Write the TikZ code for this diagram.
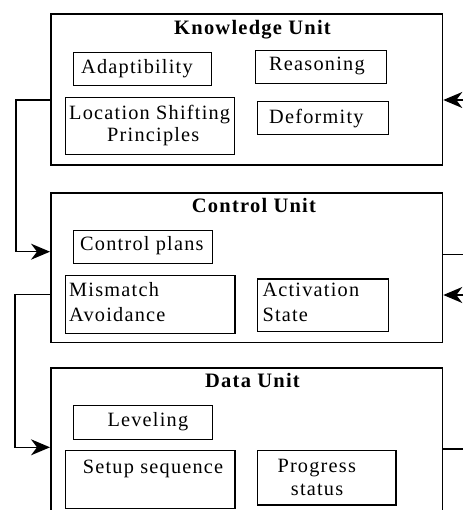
\documentclass[tikz,border=0pt]{standalone}
\usepackage{fontspec}
\setmainfont{Liberation Serif}[LetterSpace=6]
\usetikzlibrary{arrows.meta}
\tikzset{
  unit/.style={draw, line width=1.6pt, rectangle, anchor=north west, inner sep=0pt},
  ibox/.style={draw, line width=1.2pt, rectangle, anchor=north west, inner sep=0pt},
  txt/.style={anchor=base west, inner sep=0pt, font=\fontsize{20.3}{22}\selectfont},
  ttl/.style={anchor=base west, inner sep=0pt, font=\fontsize{20.5}{22}\selectfont\bfseries},
  conn/.style={line width=1.3pt},
  arr/.style={conn, -{Stealth[length=19pt, width=16pt, inset=6pt]}}
}
\begin{document}
\begin{tikzpicture}[x=1pt, y=-1pt]
\useasboundingbox (0,0) rectangle (463,510);
\clip (0,0) rectangle (463,510);
% units
\node[unit, minimum width=391.7pt, minimum height=150.7pt] (ku) at (50,13.3) {};
\node[unit, minimum width=391.7pt, minimum height=149.4pt] (cu) at (50,192.3) {};
\node[unit, minimum width=391.7pt, minimum height=160pt] (du) at (50,367.3) {};
\node[ttl] (kut) at (174,35) {Knowledge Unit};
\node[ttl] (cut) at (191.7,212.7) {Control Unit};
\node[ttl] (dut) at (205,387.7) {Data Unit};
% knowledge boxes
\node[ibox, minimum width=138pt, minimum height=33.3pt] (adapt) at (73,51.7) {};
\node[txt] (adaptt) at (81,73.3) {Adaptibility};
\node[ibox, minimum width=131pt, minimum height=32.7pt] (reas) at (255,50) {};
\node[txt] (reast) at (269,70.7) {Reasoning};
\node[ibox, minimum width=169pt, minimum height=57.6pt] (loc) at (65,96.7) {};
\node[txt] (loct1) at (69,120) {Location Shifting};
\node[txt] (loct2) at (107,141.7) {Principles};
\node[ibox, minimum width=131pt, minimum height=33.3pt] (def) at (256.7,100.7) {};
\node[txt] (deft) at (269,123.3) {Deformity};
% control boxes
\node[ibox, minimum width=138.7pt, minimum height=32.7pt] (cpl) at (73,230) {};
\node[txt] (cplt) at (80,250) {Control plans};
\node[ibox, minimum width=169.3pt, minimum height=57.7pt] (mis) at (65,275) {};
\node[txt] (mist1) at (69,296.7) {Mismatch};
\node[txt] (mist2) at (69,321.7) {Avoidance};
\node[ibox, minimum width=131pt, minimum height=52.4pt] (act) at (256.7,278.3) {};
\node[txt] (actt1) at (262.3,296.7) {Activation};
\node[txt] (actt2) at (262.3,321.7) {State};
% data boxes
\node[ibox, minimum width=138.7pt, minimum height=34pt] (lev) at (73,405) {};
\node[txt] (levt) at (107.3,426) {Leveling};
\node[ibox, minimum width=169.3pt, minimum height=57.7pt] (setup) at (65,450) {};
\node[txt] (setupt) at (82.7,473.3) {Setup sequence};
\node[ibox, minimum width=138.3pt, minimum height=54.3pt] (prog) at (257,450) {};
\node[txt] (progt1) at (277.3,472.3) {Progress};
\node[txt] (progt2) at (290.7,495.3) {status};
% external coordinates
\coordinate (rk) at (463,100);
\coordinate (rc1) at (463,254.3);
\coordinate (rc2) at (463,295);
\coordinate (rd) at (463,449);
% connectors
\draw[arr] (ku.west |- 0,100) -- (16,100) -- (16,251.7) -- (cu.west |- 0,251.7);
\draw[arr] (cu.west |- 0,294.3) -- (15,294.3) -- (15,447.3) -- (du.west |- 0,447.3);
\draw[arr] (rk) -- (ku.east |- rk);
\draw[conn] (cu.east |- rc1) -- (rc1);
\draw[arr] (rc2) -- (cu.east |- rc2);
\draw[conn] (du.east |- rd) -- (rd);
\end{tikzpicture}
\end{document}
